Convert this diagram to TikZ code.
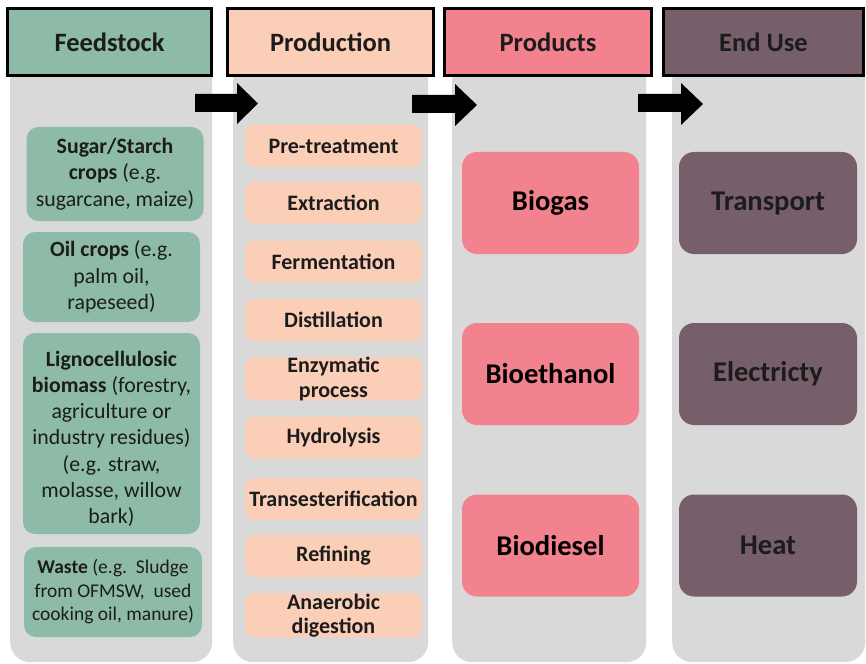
\documentclass[tikz,border=0pt]{standalone}
\usepackage{fontspec}
\setmainfont{Carlito}
\definecolor{cfeed}{RGB}{141,187,167}
\definecolor{cprod}{RGB}{251,207,183}
\definecolor{cpdt}{RGB}{242,130,141}
\definecolor{cend}{RGB}{119,94,107}
\definecolor{cgray}{RGB}{217,217,217}
\definecolor{ctxt}{RGB}{28,28,28}
\tikzset{
  column/.style={fill=cgray, rounded corners=20pt, anchor=north west, inner sep=0pt},
  header/.style={draw=black, line width=3pt, minimum height=67pt, inner sep=0pt,
    text=ctxt, font=\fontsize{26.5}{30}\selectfont\bfseries},
  feedbox/.style={fill=cfeed, rounded corners=12pt, minimum width=177pt, inner sep=0pt,
    text=ctxt, align=center, font=\fontsize{21.8}{26.3}\selectfont},
  procbox/.style={fill=cprod, rounded corners=9pt, minimum width=177pt, minimum height=42pt,
    inner sep=0pt, text=ctxt, align=center, font=\fontsize{22}{24.5}\selectfont\bfseries},
  bigbox/.style={rounded corners=15pt, minimum width=177pt, minimum height=102pt,
    inner sep=0pt, text=black, font=\fontsize{28.6}{32}\selectfont\bfseries},
  blockarrow/.style={fill=black}
}
\begin{document}
\begin{tikzpicture}[x=1pt,y=-1pt]
\useasboundingbox (0,0) rectangle (866,663);
% columns
\node[column, minimum width=202pt, minimum height=602pt] (c1) at (10,60) {};
\node[column, minimum width=195pt, minimum height=602pt] (c2) at (233,60) {};
\node[column, minimum width=194pt, minimum height=602pt] (c3) at (452,60) {};
\node[column, minimum width=193pt, minimum height=602pt] (c4) at (672,60) {};
% headers
\node[header, fill=cfeed, minimum width=204pt] (h1) at (109.5,42.5) {Feedstock};
\node[header, fill=cprod, minimum width=206pt] (h2) at (330.5,42.5) {Production};
\node[header, fill=cpdt, minimum width=207pt] (h3) at (548,42.5) {Products};
\node[header, fill=cend, minimum width=200pt] (h4) at (763.5,42.5) {End Use};
% block arrows
\fill[blockarrow] (195,94) -- (237,94) -- (237,83) -- (258,103.5) -- (237,124) -- (237,112) -- (195,112) -- cycle;
\fill[blockarrow] (412,95) -- (455,95) -- (455,84) -- (477,105) -- (455,126) -- (455,113) -- (412,113) -- cycle;
\fill[blockarrow] (638,94) -- (681,94) -- (681,83) -- (703,104) -- (681,125) -- (681,112) -- (638,112) -- cycle;
% feedstock
\node[feedbox, minimum height=94pt] (f1) at (115,174)
  {\textbf{Sugar/Starch}\\\textbf{crops} (e.g.\\sugarcane, maize)};
\node[feedbox, minimum height=90pt] (f2) at (111.5,277)
  {\textbf{Oil crops} (e.g.\\palm oil,\\rapeseed)};
\node[feedbox, minimum height=201pt] (f3) at (111.5,433.5)
  {\rule{0pt}{26pt}\textbf{Lignocellulosic}\\\textbf{biomass} (forestry,\\agriculture or\\industry residues)\\(e.g. straw,\\molasse, willow\\bark)};
\node[feedbox, minimum width=178pt, minimum height=90pt, font=\fontsize{19.5}{23.5}\selectfont] (f4) at (113,592)
  {\textbf{Waste} (e.g.\ \ Sludge\\from OFMSW,\ \ used\\cooking oil, manure)};
% production
\node[procbox] (p1) at (333.5,146) {Pre-treatment};
\node[procbox] (p2) at (333.5,202.5) {Extraction};
\node[procbox] (p3) at (333.5,261.5) {Fermentation};
\node[procbox] (p4) at (333.5,320) {Distillation};
\node[procbox] (p5) at (333.5,379) {Enzymatic\\process};
\node[procbox] (p6) at (333.5,437.5) {Hydrolysis};
\node[procbox] (p7) at (333.5,499) {Transesterification};
\node[procbox] (p8) at (333.5,556) {Refining};
\node[procbox] (p9) at (333.5,615.5) {Anaerobic\\digestion};
% products
\node[bigbox, fill=cpdt] (r1) at (550.5,203) {Biogas};
\node[bigbox, fill=cpdt] (r2) at (550.5,374) {Bioethanol};
\node[bigbox, fill=cpdt] (r3) at (550.5,545.5) {Biodiesel};
% end use
\node[bigbox, fill=cend, minimum width=178pt, text=ctxt] (e1) at (768,203) {Transport};
\node[bigbox, fill=cend, minimum width=178pt, text=ctxt] (e2) at (768,374) {Electricty};
\node[bigbox, fill=cend, minimum width=178pt, text=ctxt] (e3) at (768,545.5) {Heat};
\end{tikzpicture}
\end{document}
